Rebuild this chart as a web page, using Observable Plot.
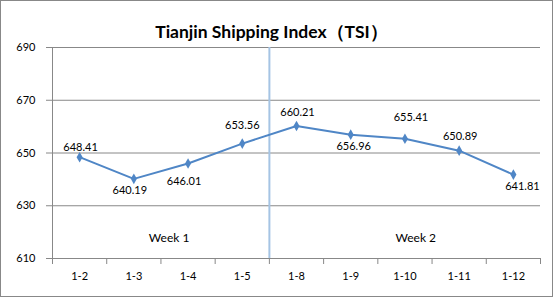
<!DOCTYPE html>
<html><head><meta charset="utf-8">
<script src="https://cdn.jsdelivr.net/npm/d3@7"></script>
<script src="https://cdn.jsdelivr.net/npm/@observablehq/plot@0.6"></script>
<style>
body{margin:0;background:#fff;}
#wrap{position:relative;width:554px;height:299px;}
#border{position:absolute;left:0;top:0;width:551px;height:295px;border:1px solid #888;pointer-events:none;}
svg{display:block;}
</style></head><body><div id="wrap"><div id="border"></div></div>
<script>
const title = "Tianjin Shipping Index（TSI）";
const dates = ["1-2","1-3","1-4","1-5","1-8","1-9","1-10","1-11","1-12"];
const values = [648.41,640.19,646.01,653.56,660.21,656.96,655.41,650.89,641.81];
const yTicks = [610,630,650,670,690];
const weekLabels = ["Week 1","Week 2"];
const weekCenters = [2.15, 6.7];   // in category-index units
const weekBoundary = [4];          // between 1-5 and 1-8
// label nudges (px) replicating the original's label placement
const labelDx = [1,-4,-4,0,1,3,6,1,9];
const labelDy = [-10,12,18,-18,-14,12,-21,-14,12];

const rows = values.map((v,i)=>({x:i+0.5, date:dates[i], v}));
const font = "Lato, 'Open Sans', sans-serif";
const gray = "#888";

const chart = Plot.plot({
  width: 554, height: 299,
  marginLeft: 52, marginRight: 14, marginTop: 47, marginBottom: 41,
  style: {fontFamily: font, fontSize: "11px", color: "#000", background: "transparent"},
  x: {domain: [0, dates.length], axis: null},
  y: {domain: [610, 690], axis: null},
  marks: [
    Plot.gridY(yTicks, {stroke: gray, strokeOpacity: 1, strokeWidth: 1}),
    Plot.axisY(yTicks, {label: null, tickSize: 6, tickPadding: 11, stroke: gray, fill: "#000", fontSize: 11}),
    Plot.ruleX([0], {stroke: gray}),
    Plot.ruleY([610], {stroke: gray}),
    Plot.axisX(d3.range(dates.length + 1), {label: null, tickSize: 6, tickFormat: () => "", stroke: gray}),
    Plot.axisX(rows.map(d=>d.x), {label: null, tickSize: 0, tickPadding: 14, tickFormat: (d) => dates[Math.floor(d)], fill: "#000", fontSize: 11}),
    Plot.ruleX(weekBoundary, {stroke: "#a5c4e4", strokeWidth: 2}),
    Plot.text(weekLabels, {x: (d,i)=>weekCenters[i], text: d=>d, frameAnchor: "bottom", dy: -17, fontSize: 12, fill: "#000"}),
    Plot.line(rows, {x: "x", y: "v", stroke: "#4f86c6", strokeWidth: 2}),
    Plot.dot(rows, {x: "x", y: "v", symbol: "diamond", r: 3.2, fill: "#4f86c6", stroke: "none"}),
    ...rows.map((d,i) => Plot.text([d], {x: "x", y: "v", text: r => r.v.toFixed(2), dx: labelDx[i], dy: labelDy[i], fontSize: 11, fill: "#000"})),
    Plot.text([title], {frameAnchor: "top", dx: -25, dy: -22, fontSize: 17.5, fontWeight: "bold", fill: "#000", text: d=>d})
  ]
});
document.getElementById("wrap").prepend(chart);
</script></body></html>
